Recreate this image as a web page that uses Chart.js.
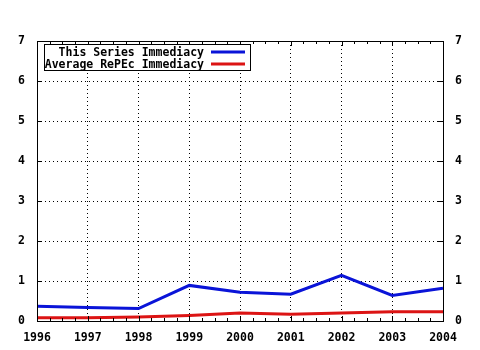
<!DOCTYPE html>
<html>
<head>
<meta charset="utf-8">
<script src="https://cdn.jsdelivr.net/npm/chart.js@4/dist/chart.umd.min.js"></script>
<style>
  html, body { margin: 0; padding: 0; background: #fff; }
  canvas { display: block; }
</style>
</head>
<body>
<canvas id="immediacyChart" width="480" height="350"></canvas>
<script>
// ===================
// Data
// ===================

const years = [1996, 1997, 1998, 1999, 2000, 2001, 2002, 2003, 2004];
const seriesImmediacy = [0.37, 0.34, 0.31, 0.89, 0.72, 0.67, 1.14, 0.64, 0.82];
const averageImmediacy = [0.08, 0.08, 0.10, 0.14, 0.20, 0.17, 0.20, 0.23, 0.23];
const seriesLabels = ['This Series Immediacy', 'Average RePEc Immediacy'];
const yTicks = [0, 1, 2, 3, 4, 5, 6, 7];

const FONT = 'bold 11.5px "DejaVu Sans Mono"';

function toPoints(values) {
    return years.map(function (yr, i) { return { x: yr, y: values[i] }; });
}

// ===================
// Frame, tics and key
// ===================

const framePlugin = {
    id: 'frame',
    afterDatasetsDraw: function (chart) {
        const ctx = chart.ctx;
        const a = chart.chartArea;
        const xs = chart.scales.x;
        const ys = chart.scales.y;

        ctx.save();
        ctx.strokeStyle = '#000';
        ctx.lineWidth = 1;

        // border
        ctx.strokeRect(Math.round(a.left) + 0.5, Math.round(a.top) + 0.5,
            Math.round(a.right - a.left), Math.round(a.bottom - a.top));

        ctx.beginPath();
        // x tics, major and minor, on bottom and top
        for (let v = years[0]; v <= years[years.length - 1] + 1e-9; v += 0.25) {
            const px = Math.round(xs.getPixelForValue(v)) + 0.5;
            const len = Math.abs(v - Math.round(v)) < 1e-9 ? 5 : 3;
            ctx.moveTo(px, a.bottom);
            ctx.lineTo(px, a.bottom - len);
            ctx.moveTo(px, a.top);
            ctx.lineTo(px, a.top + len);
        }
        // y tics on left and right
        yTicks.forEach(function (v) {
            const py = Math.round(ys.getPixelForValue(v)) + 0.5;
            ctx.moveTo(a.left, py);
            ctx.lineTo(a.left + 5, py);
            ctx.moveTo(a.right, py);
            ctx.lineTo(a.right - 5, py);
        });
        ctx.stroke();

        // key box
        const bx = 44, by = 44, bw = 206, bh = 26;
        ctx.fillStyle = '#fff';
        ctx.fillRect(bx, by, bw, bh);
        ctx.strokeRect(bx + 0.5, by + 0.5, bw, bh);

        ctx.font = FONT;
        ctx.textAlign = 'right';
        ctx.textBaseline = 'middle';
        chart.data.datasets.forEach(function (ds, i) {
            const rowY = 52 + i * 12;
            ctx.fillStyle = '#000';
            ctx.fillText(ds.label, 204, rowY + 1);
            ctx.strokeStyle = ds.borderColor;
            ctx.lineWidth = 3;
            ctx.beginPath();
            ctx.moveTo(211, rowY);
            ctx.lineTo(245, rowY);
            ctx.stroke();
        });
        ctx.restore();
    }
};

// ===================
// Immediacy Chart
// ===================

Chart.defaults.font.family = '"DejaVu Sans Mono"';
Chart.defaults.font.size = 11.5;
Chart.defaults.font.weight = 'bold';
Chart.defaults.color = '#000';

const ctx = document.getElementById('immediacyChart').getContext('2d');
const chart = new Chart(ctx, {
    type: 'line',
    data: {
        datasets: [{
            label: seriesLabels[0],
            data: toPoints(seriesImmediacy),
            borderColor: '#0a14d8',
            borderWidth: 3,
            pointRadius: 0,
            tension: 0
        }, {
            label: seriesLabels[1],
            data: toPoints(averageImmediacy),
            borderColor: '#dc1414',
            borderWidth: 3,
            pointRadius: 0,
            tension: 0
        }]
    },
    options: {
        responsive: false,
        animation: false,
        layout: { padding: { top: 41, left: 0, right: 0, bottom: 0 } },
        plugins: {
            legend: { display: false },
            tooltip: { enabled: false }
        },
        scales: {
            x: {
                type: 'linear',
                min: years[0],
                max: years[years.length - 1],
                afterBuildTicks: function (scale) {
                    scale.ticks = years.map(function (v) { return { value: v }; });
                },
                ticks: {
                    padding: 10,
                    maxRotation: 0,
                    callback: function (v) { return String(v); }
                },
                grid: { color: '#000', lineWidth: 1, drawTicks: false },
                border: { display: false, dash: [1, 3] },
                afterFit: function (scale) { scale.height = 29; }
            },
            y: {
                position: 'left',
                min: 0,
                max: 7,
                afterBuildTicks: function (scale) {
                    scale.ticks = yTicks.map(function (v) { return { value: v }; });
                },
                ticks: { padding: 12 },
                grid: { color: '#000', lineWidth: 1, drawTicks: false },
                border: { display: false, dash: [1, 3] },
                afterFit: function (scale) { scale.width = 37; }
            },
            y2: {
                position: 'right',
                min: 0,
                max: 7,
                afterBuildTicks: function (scale) {
                    scale.ticks = yTicks.map(function (v) { return { value: v }; });
                },
                ticks: { padding: 12 },
                grid: { display: false, drawTicks: false },
                border: { display: false },
                afterFit: function (scale) { scale.width = 37; }
            }
        }
    },
    plugins: [framePlugin]
});
</script>
</body>
</html>
